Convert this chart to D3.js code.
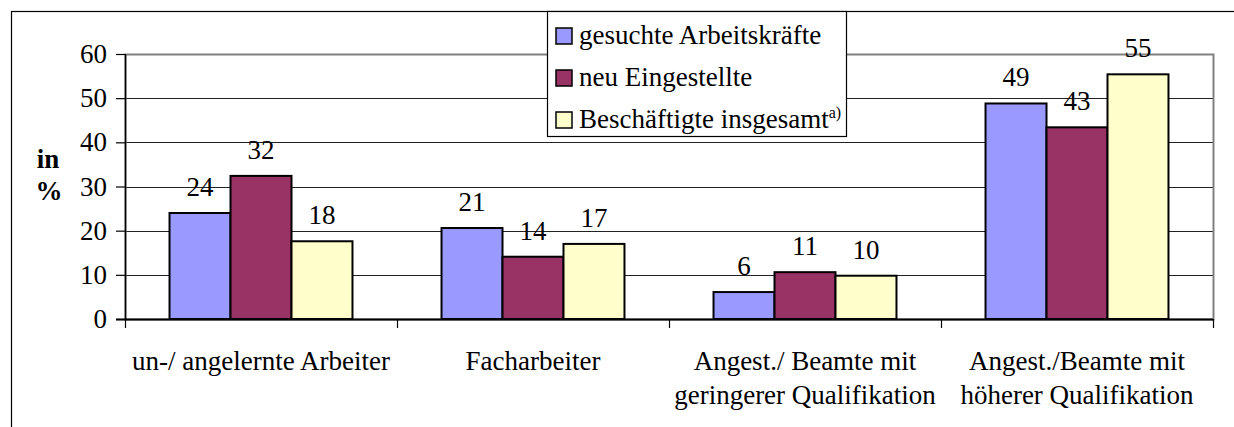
<!DOCTYPE html>
<html>
<head>
<meta charset="utf-8">
<script src="https://cdn.jsdelivr.net/npm/d3@7"></script>
<style>
  html, body { margin: 0; padding: 0; background: #fff; }
  svg { display: block; }
</style>
</head>
<body>
<svg id="chart" width="1234" height="427"></svg>
<script>
// ---- data ----
const categories = [
  "un-/ angelernte Arbeiter",
  "Facharbeiter",
  "Angest./ Beamte mit\ngeringerer Qualifikation",
  "Angest./Beamte mit\nhöherer Qualifikation"
];
const seriesNames = ["gesuchte Arbeitskräfte", "neu Eingestellte", "Beschäftigte insgesamt"];
const seriesSup = ["", "", "a)"];
const seriesColors = ["#9999FF", "#993366", "#FFFFCC"];
const gesuchte = [24.0, 20.6, 6.1, 48.8];
const neuEingestellte = [32.4, 14.1, 10.6, 43.4];
const beschaeftigte = [17.6, 17.0, 9.8, 55.4];
const seriesValues = [gesuchte, neuEingestellte, beschaeftigte];
const yTicks = [0, 10, 20, 30, 40, 50, 60];

// ---- layout ----
const FF = '"Liberation Serif"';
const svg = d3.select("#chart");
const plot = { left: 125, right: 1213, top: 54, bottom: 319 };
const FS = 27;

svg.append("rect").attr("width", 1234).attr("height", 427).attr("fill", "#fff");
// outer chart frame (extends beyond viewport on right/bottom)
svg.append("rect").attr("x", 11.5).attr("y", 11.5).attr("width", 1400).attr("height", 600)
  .attr("fill", "none").attr("stroke", "#000").attr("stroke-width", 1.2);

const y = d3.scaleLinear().domain([0, 60]).range([plot.bottom, plot.top]);
const x0 = d3.scaleBand().domain(d3.range(categories.length)).range([plot.left, plot.right]).paddingInner(0).paddingOuter(0);
const x1 = d3.scaleBand().domain(d3.range(seriesNames.length)).range([0, x0.bandwidth()]).paddingInner(0).paddingOuter(0.73);

// gridlines
svg.append("g").selectAll("line").data(yTicks.filter(t => t > 0 && t < 60)).join("line")
  .attr("x1", plot.left).attr("x2", plot.right)
  .attr("y1", d => Math.round(y(d)) + 0.5).attr("y2", d => Math.round(y(d)) + 0.5)
  .attr("stroke", "#222").attr("stroke-width", 1);

// plot area border (gray)
svg.append("rect").attr("x", plot.left + 0.5).attr("y", plot.top + 0.5)
  .attr("width", plot.right - plot.left).attr("height", plot.bottom - plot.top)
  .attr("fill", "none").attr("stroke", "#808080").attr("stroke-width", 2);

// bars
const groups = svg.append("g").selectAll("g").data(categories.map((c, i) => i)).join("g")
  .attr("transform", i => `translate(${x0(i)},0)`);
groups.selectAll("rect").data(i => seriesValues.map((vals, s) => ({ s, v: vals[i] }))).join("rect")
  .attr("x", d => x1(d.s)).attr("width", x1.bandwidth())
  .attr("y", d => y(d.v)).attr("height", d => y(0) - y(d.v))
  .attr("fill", d => seriesColors[d.s]).attr("stroke", "#000").attr("stroke-width", 2);

// value labels
groups.selectAll("text").data(i => seriesValues.map((vals, s) => ({ s, v: vals[i] }))).join("text")
  .attr("x", d => x1(d.s) + x1.bandwidth() / 2).attr("y", d => y(d.v) - 17)
  .attr("text-anchor", "middle")
  .text(d => d3.format(".0f")(d.v));

// y axis
const yAxis = svg.append("g").attr("transform", `translate(${plot.left},0)`)
  .call(d3.axisLeft(y).tickValues(yTicks).tickSize(9).tickPadding(9).tickFormat(d3.format("d")));
yAxis.attr("font-family", null).attr("font-size", null);
yAxis.select(".domain").attr("stroke", "#000").attr("stroke-width", 1.5).attr("d", `M0.5,${plot.top}V${plot.bottom}`);
yAxis.selectAll(".tick line").attr("stroke", "#000").attr("stroke-width", 1.2);

// x axis line + ticks at category boundaries
const xBounds = d3.range(categories.length + 1).map(i => plot.left + i * x0.step());
svg.append("line").attr("x1", plot.left - 9).attr("x2", plot.right)
  .attr("y1", plot.bottom + 0.5).attr("y2", plot.bottom + 0.5).attr("stroke", "#000").attr("stroke-width", 1.8);
svg.append("g").selectAll("line").data(xBounds).join("line")
  .attr("x1", d => d + 0.5).attr("x2", d => d + 0.5).attr("y1", plot.bottom).attr("y2", plot.bottom + 9)
  .attr("stroke", "#000").attr("stroke-width", 1.2);

// category labels
svg.append("g").selectAll("text").data(categories).join("text")
  .attr("text-anchor", "middle")
  .each(function (c, i) {
    const t = d3.select(this);
    c.split("\n").forEach((line, k) => {
      t.append("tspan").attr("x", x0(i) + x0.bandwidth() / 2).attr("y", 370 + k * 34).text(line);
    });
  });

// y title
const yt = svg.append("text").attr("text-anchor", "middle").attr("font-weight", "bold");
yt.append("tspan").attr("x", 48).attr("y", 168).text("in");
yt.append("tspan").attr("x", 49).attr("y", 200).text("%");

// legend
const lg = svg.append("g");
lg.append("rect").attr("x", 547.5).attr("y", 11.5).attr("width", 299).attr("height", 125)
  .attr("fill", "#fff").attr("stroke", "#000").attr("stroke-width", 1.2);
seriesNames.forEach((name, i) => {
  const base = 44 + i * 42;
  lg.append("rect").attr("x", 556).attr("y", base - 16).attr("width", 16).attr("height", 16)
    .attr("fill", seriesColors[i]).attr("stroke", "#000").attr("stroke-width", 1.5);
  const t = lg.append("text").attr("x", 579).attr("y", base).text(name);
  if (seriesSup[i]) {
    t.append("tspan").attr("class", "sup").attr("dy", -10).text(seriesSup[i]);
  }
});

svg.selectAll("text")
  .attr("font-family", "Liberation Serif")
  .style("font-family", FF)
  .style("font-size", FS + "px")
  .style("fill", "#000");
svg.selectAll("tspan.sup").style("font-size", "16px");
</script>
</body>
</html>
